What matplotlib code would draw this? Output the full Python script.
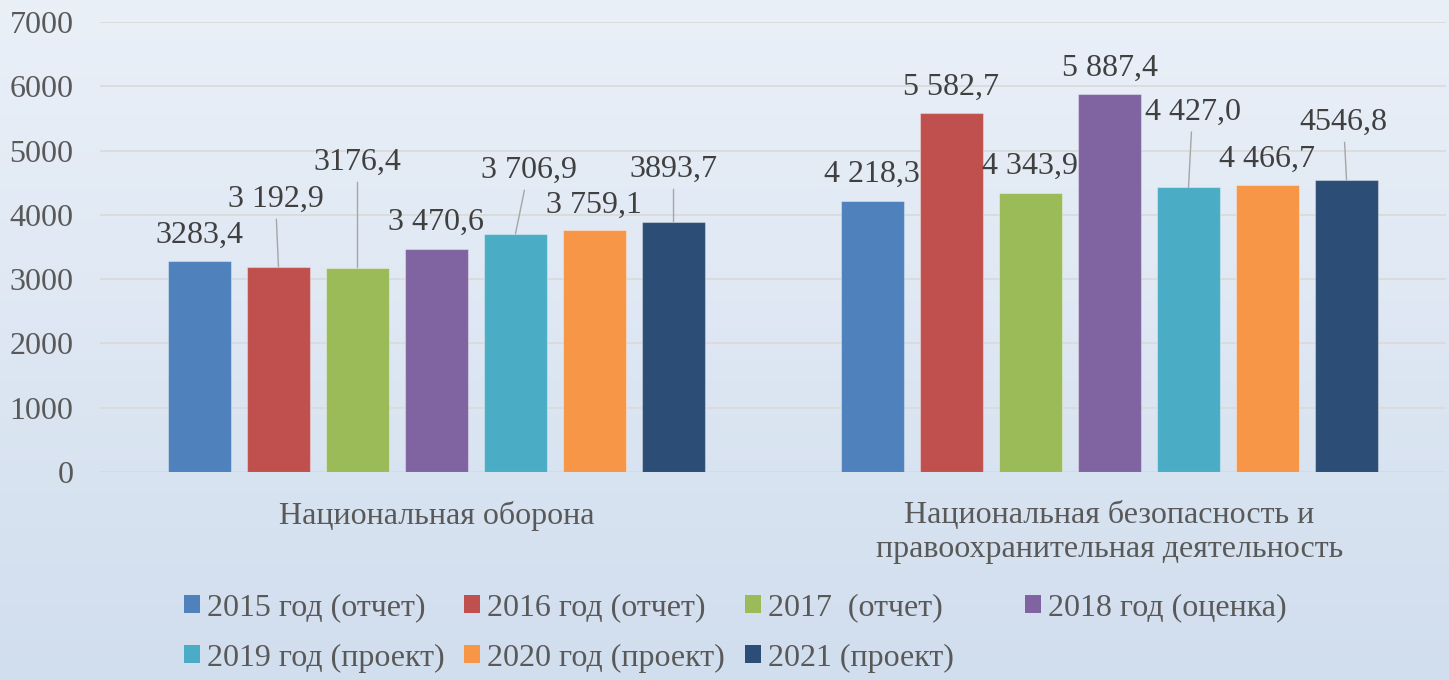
import numpy as np
import matplotlib
matplotlib.use('Agg')
import matplotlib.pyplot as plt
from matplotlib.patches import Patch

FONT = 'Liberation Serif'
plt.rcParams['font.family'] = 'serif'
plt.rcParams['font.serif'] = [FONT, 'DejaVu Serif']
FS = 23

# Data
categories = ['Национальная оборона',
              'Национальная безопасность и\nправоохранительная деятельность']
series = ['2015 год (отчет)', '2016 год (отчет)', '2017  (отчет)', '2018 год (оценка)',
          '2019 год (проект)', '2020 год (проект)', '2021 (проект)']
oborona = [3283.4, 3192.9, 3176.4, 3470.6, 3706.9, 3759.1, 3893.7]
bezopasnost = [4218.3, 5582.7, 4343.9, 5887.4, 4427.0, 4466.7, 4546.8]
labels_oborona = ['3283,4', '3 192,9', '3176,4', '3 470,6', '3 706,9', '3 759,1', '3893,7']
labels_bezopasnost = ['4 218,3', '5 582,7', '4 343,9', '5 887,4', '4 427,0', '4 466,7', '4546,8']
colors = ['#4F81BD', '#C0504D', '#9BBB59', '#8064A2', '#4BACC6', '#F79646', '#2C4D75']

# label placement (pixel offsets from bar top) and whether a leader line is drawn
offsets_oborona = [(0, 18), (-3, 60), (0, 98), (0, 19), (13, 56), (-1, 18), (0, 45)]
leader_oborona = [False, True, True, False, True, False, True]
offsets_bez = [(-1, 19), (0, 18), (0, 19), (0, 18), (4, 68), (-1, 18), (-3, 50)]
leader_bez = [False, False, False, False, True, False, True]

fig = plt.figure(figsize=(14.49, 6.8), dpi=100)

# gradient background
bg = fig.add_axes([0, 0, 1, 1], zorder=-10)
top = np.array([234, 240, 248]) / 255
bottom = np.array([209, 222, 238]) / 255
t = np.linspace(0, 1, 256)[:, None]
grad = top * (1 - t) + bottom * t
bg.imshow(np.repeat(grad[:, None, :], 2, axis=1), aspect='auto', extent=[0, 1, 0, 1])
bg.axis('off')

ax = fig.add_axes([100 / 1449, 1 - 472 / 680, 1346 / 1449, 450 / 680])
ax.set_facecolor('none')

x = np.arange(len(categories))
width = 0.0936
step = 0.1174
values = np.array([oborona, bezopasnost])
all_labels = [labels_oborona, labels_bezopasnost]
all_offsets = [offsets_oborona, offsets_bez]
all_leaders = [leader_oborona, leader_bez]

for i in range(len(series)):
    xs = x + (i - 3) * step
    ax.bar(xs, values[:, i], width, color=colors[i], edgecolor=(1, 1, 1, 0.35),
           linewidth=0.8, zorder=3, label=series[i])
    for g in range(len(categories)):
        dx, dy = all_offsets[g][i]
        kw = {}
        if all_leaders[g][i]:
            kw['arrowprops'] = dict(arrowstyle='-', color='#A6A6A6', lw=1.0,
                                    shrinkA=2, shrinkB=0)
        ax.annotate(all_labels[g][i], xy=(xs[g], values[g, i]), xytext=(dx, dy),
                    textcoords='offset pixels', ha='center', va='baseline',
                    fontsize=FS, fontfamily=FONT, color='#404040', zorder=5, **kw)

ax.set_xlim(-0.5, 1.5)
ax.set_ylim(0, 7000)
ax.set_yticks(range(0, 7001, 1000))
ax.set_xticks(x)
ax.set_xticklabels(categories, fontsize=FS, fontfamily=FONT, color='#595959', linespacing=1.22)
ax.tick_params(axis='y', labelsize=FS, labelcolor='#595959', length=0, pad=19)
ax.tick_params(axis='x', length=0, pad=21)
for lab in ax.get_yticklabels():
    lab.set_fontfamily(FONT)
ax.grid(axis='y', color='#D9D9D9', linewidth=1.2, zorder=0)
for s in ['top', 'right', 'left', 'bottom']:
    ax.spines[s].set_visible(False)

# legend entries placed in a two-row grid
leg_x = [184, 464, 745, 1025, 184, 464, 745]
leg_y = [608, 608, 608, 608, 658, 658, 658]
for i in range(len(series)):
    fig.legend(handles=[Patch(facecolor=colors[i])], labels=[series[i]],
               loc='center left', bbox_to_anchor=(leg_x[i] / 1449, 1 - leg_y[i] / 680),
               frameon=False, prop={'family': FONT, 'size': FS},
               handlelength=0.5, handleheight=0.5,
               handletextpad=0.22, borderpad=0, borderaxespad=0, labelcolor='#595959')

fig.savefig('out.png', dpi=100)
